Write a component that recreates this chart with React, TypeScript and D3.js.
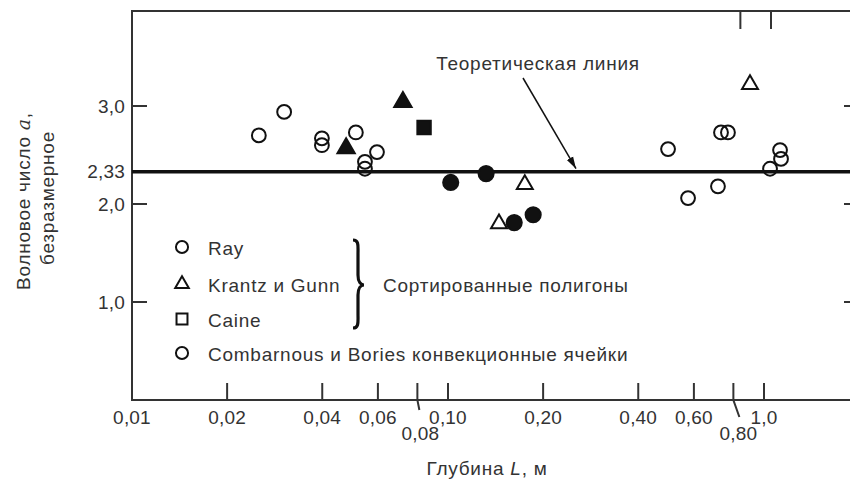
import { useEffect, useRef } from 'react';
import * as d3 from 'd3';

// Tick values and labels
const xTicks = [0.01, 0.02, 0.04, 0.06, 0.08, 0.10, 0.20, 0.40, 0.60, 0.80, 1.0];
const xTickLabels = ["0,01", "0,02", "0,04", "0,06", "0,08", "0,10", "0,20", "0,40", "0,60", "0,80", "1,0"];
const xLowered = [0.08, 0.80];
const yTicks = [1.0, 2.0, 3.0];
const yTickLabels = ["1,0", "2,0", "3,0"];
const theoryValue = 2.33;
const theoryLabel = "2,33";

// Points: [depth L, wave number a]
const openCircles = [
    [0.0252, 2.70], [0.0303, 2.94], [0.0399, 2.67], [0.0399, 2.60], [0.0511, 2.73],
    [0.0546, 2.43], [0.0546, 2.36], [0.0596, 2.53],
    [0.497, 2.56], [0.731, 2.73], [0.769, 2.73], [1.124, 2.55], [1.132, 2.46],
    [1.045, 2.36], [0.715, 2.18], [0.575, 2.06]
];
const openTriangles = [[0.175, 2.20], [0.145, 1.80], [0.903, 3.22]];
const filledTriangles = [[0.0476, 2.57], [0.0720, 3.04]];
const filledSquares = [[0.0840, 2.78]];
const filledCircles = [[0.102, 2.22], [0.132, 2.31], [0.162, 1.81], [0.186, 1.89]];

const legendLabels = ["Ray", "Krantz и Gunn", "Caine", "Combarnous и Bories конвекционные ячейки"];
const legendShapes = ["circle", "triangle", "square", "circle"];
const braceLabel = "Сортированные полигоны";
const noteLabel = "Теоретическая линия";

const FONT = "'Liberation Sans', Arial, sans-serif";
const INK = "#333";
const FS = 19;
const LS = 0.75;   // the scan's lettering runs a little wider than Arial

function App() {
    const ref = useRef(null);

    const draw = () => {
        document.body.style.margin = "0";
        const root = d3.select(ref.current);
        root.selectAll("*").remove();

        const svg = root.append("svg")
            .attr("width", 850)
            .attr("height", 486)
            .style("display", "block")
            .style("font-family", FONT);

        const x = d3.scaleLog().domain([0.01, 1]).range([132, 764]);
        const y = d3.scaleLinear().domain([0, 4]).range([400, 8]);

        const left = 132, top = 11, bottom = 400, right = 858;

        const label = (px, py, txt, anchor = "start", spacing = LS) =>
            svg.append("text")
                .attr("x", px).attr("y", py)
                .attr("dy", "0.35em")
                .attr("text-anchor", anchor)
                .attr("font-size", FS)
                .attr("letter-spacing", spacing)
                .attr("fill", INK)
                .text(txt);

        // Frame
        svg.append("path")
            .attr("d", `M${right},${top} H${left} V${bottom} H${right}`)
            .attr("fill", "none")
            .attr("stroke", INK)
            .attr("stroke-width", 2);

        // Bottom ticks
        xTicks.forEach((t, i) => {
            const px = x(t);
            const low = xLowered.includes(t);
            const d = low
                ? (t < 0.5 ? `M${px},383 V400 L${px + 2},410` : `M${px},383 V400 L${px + 6},417`)
                : `M${px},383 V400`;
            svg.append("path").attr("d", d).attr("fill", "none").attr("stroke", INK).attr("stroke-width", 2);
            label(low ? px + (t < 0.5 ? 3 : 5) : px, low ? 433 : 417, xTickLabels[i], "middle", 0.2);
        });

        // Top ticks
        [0.8, 1.0].forEach(t => {
            svg.append("line")
                .attr("x1", x(t) + 7).attr("x2", x(t) + 7)
                .attr("y1", top).attr("y2", top + 18)
                .attr("stroke", INK).attr("stroke-width", 2);
        });

        // Left / right ticks
        yTicks.forEach((t, i) => {
            svg.append("line")
                .attr("x1", left).attr("x2", left + 15)
                .attr("y1", y(t)).attr("y2", y(t))
                .attr("stroke", INK).attr("stroke-width", 2);
            svg.append("line")
                .attr("x1", right - 14).attr("x2", right)
                .attr("y1", y(t)).attr("y2", y(t))
                .attr("stroke", INK).attr("stroke-width", 2);
            label(125, y(t), yTickLabels[i], "end", 0.2);
        });

        // Theoretical line
        svg.append("line")
            .attr("x1", left).attr("x2", right)
            .attr("y1", y(theoryValue)).attr("y2", y(theoryValue))
            .attr("stroke", "#111").attr("stroke-width", 3.5);
        label(125, y(theoryValue), theoryLabel, "end", 0.2);

        // Annotation with arrow
        svg.append("defs").append("marker")
            .attr("id", "arr")
            .attr("viewBox", "0 0 10 10")
            .attr("refX", 10).attr("refY", 5)
            .attr("markerWidth", 8).attr("markerHeight", 8)
            .attr("orient", "auto")
            .append("path").attr("d", "M0,2 L10,5 L0,8 Z").attr("fill", "#111");
        label(538, 63, noteLabel, "middle");
        svg.append("line")
            .attr("x1", 523).attr("y1", 78)
            .attr("x2", 576).attr("y2", y(theoryValue) - 3)
            .attr("stroke", "#111").attr("stroke-width", 1.5)
            .attr("marker-end", "url(#arr)");

        // Points
        const sym = (type, size) => d3.symbol().type(type).size(size)();
        const plot = (data, type, size, filled) => {
            svg.append("g").selectAll("path")
                .data(data)
                .enter()
                .append("path")
                .attr("d", sym(type, size))
                .attr("transform", d => `translate(${x(d[0])},${y(d[1])})`)
                .attr("fill", filled ? "#111" : "#fff")
                .attr("fill-opacity", filled ? 1 : 0)
                .attr("stroke", "#111")
                .attr("stroke-width", 2);
        };
        plot(openCircles, d3.symbolCircle, 150, false);
        plot(openTriangles, d3.symbolTriangle, 110, false);
        plot(filledTriangles, d3.symbolTriangle, 130, true);
        plot(filledSquares, d3.symbolSquare, 180, true);
        plot(filledCircles, d3.symbolCircle, 180, true);

        // Legend
        const shapeMap = { circle: [d3.symbolCircle, 115], triangle: [d3.symbolTriangle, 80], square: [d3.symbolSquare, 120] };
        const rowsY = [248, 285, 320, 354];
        legendLabels.forEach((lab, i) => {
            const [type, size] = shapeMap[legendShapes[i]];
            svg.append("path")
                .attr("d", sym(type, size))
                .attr("transform", `translate(182,${rowsY[i] - 1})`)
                .attr("fill", "none")
                .attr("stroke", "#111")
                .attr("stroke-width", 2);
            label(208, rowsY[i], lab);
        });

        // Brace
        const bx = 353, by0 = 240, by1 = 328, bm = 285;
        svg.append("path")
            .attr("d", `M${bx},${by0} C${bx + 6},${by0} ${bx + 5},${by0 + 6} ${bx + 5},${by0 + 14}
                L${bx + 5},${bm - 10} C${bx + 5},${bm - 3} ${bx + 8},${bm} ${bx + 11},${bm}
                C${bx + 8},${bm} ${bx + 5},${bm + 3} ${bx + 5},${bm + 10}
                L${bx + 5},${by1 - 14} C${bx + 5},${by1 - 6} ${bx + 6},${by1} ${bx},${by1}`)
            .attr("fill", "none")
            .attr("stroke", "#111")
            .attr("stroke-width", 3.2);
        label(383, bm, braceLabel);

        // Axis titles
        const xt = label(487, 468, null, "middle");
        xt.append("tspan").text("Глубина ");
        xt.append("tspan").attr("font-style", "italic").text("L");
        xt.append("tspan").text(", м");

        const yt = label(0, 0, null, "middle").attr("transform", "translate(23,201) rotate(-90)");
        yt.append("tspan").text("Волновое число ");
        yt.append("tspan").attr("font-style", "italic").attr("font-family", "'DejaVu Serif', serif").text("a");
        yt.append("tspan").text(",");
        label(0, 0, "безразмерное", "middle").attr("transform", "translate(47,198) rotate(-90)");
    };

    useEffect(() => draw(), []);

    return <div ref={ref}></div>;
}

export default App;
